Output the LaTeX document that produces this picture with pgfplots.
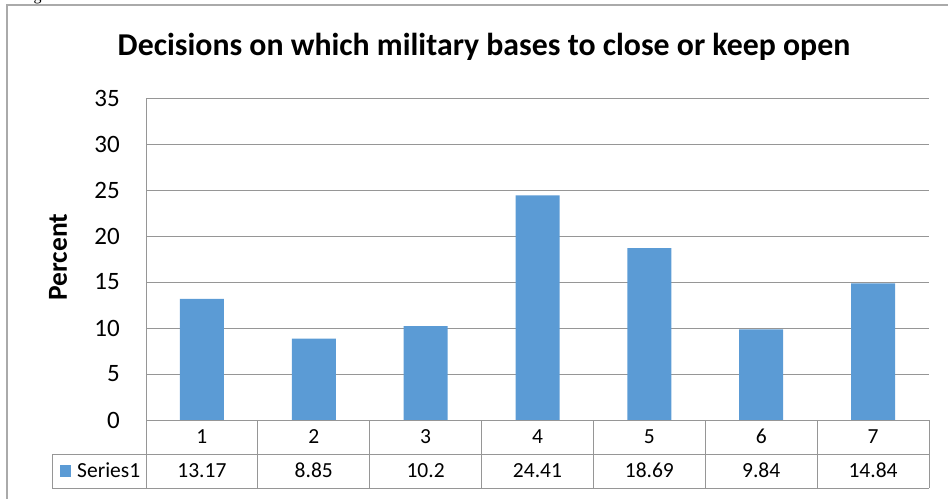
\documentclass[border=0pt]{standalone}
\usepackage{pgfplots}
\pgfplotsset{compat=1.18}
\usepackage{fontspec}
\setmainfont{Carlito}
\newfontfamily\seriffont{Liberation Serif}
\definecolor{barblue}{RGB}{91,155,213}
\definecolor{gridgray}{RGB}{150,150,150}
\definecolor{framegray}{RGB}{170,170,170}

\begin{document}
\begin{tikzpicture}[x=1bp,y=-1bp]
\path[use as bounding box] (0,0) rectangle (948,499);
\clip (0,0) rectangle (948,499);

% cut-off caption above the chart
\node[anchor=base west, inner sep=0pt, font=\seriffont\fontsize{16bp}{16bp}\selectfont] at (20,1) {Fig};

% chart frame
\draw[framegray, line width=1.2bp] (7,499) -- (7,5) -- (948,5);

\begin{axis}[
  at={(146bp,-420bp)}, anchor=south west,
  scale only axis, width=783bp, height=322bp,
  xmin=0.5, xmax=7.5, ymin=0, ymax=35,
  ytick={0,5,...,35},
  ymajorgrids,
  grid style={gridgray, line width=0.8bp},
  axis x line=none,
  axis y line=left,
  y axis line style={-, gridgray, line width=0.8bp},
  major tick length=0pt,
  yticklabel style={anchor=east, inner sep=0pt, xshift=-26bp,
    font=\fontsize{25bp}{25bp}\selectfont},
  /pgf/number format/assume math mode=true,
  clip=false,
]
\addplot[ybar, bar width=44bp, fill=barblue, draw=none]
  coordinates {(1,13.17) (2,8.85) (3,10.2) (4,24.41) (5,18.69) (6,9.84) (7,14.84)};
\end{axis}

% title and axis label
\node[anchor=base, inner sep=0pt, font=\bfseries\fontsize{31.8bp}{32bp}\selectfont] at (484,56)
  {Decisions on which military bases to close or keep open};
\node[rotate=90, inner sep=0pt, font=\bfseries\fontsize{27.5bp}{28bp}\selectfont] at (58,257) {Percent};

% data table
\draw[gridgray, line width=0.8bp] (146,420) -- (929,420);
\draw[gridgray, line width=0.8bp] (52,454) -- (929,454);
\draw[gridgray, line width=0.8bp] (52,488) -- (929,488);
\draw[gridgray, line width=0.8bp] (52,454) -- (52,488);
\draw[gridgray, line width=0.8bp] (146,420) -- (146,488);
\foreach \k in {1,...,7} {
  \draw[gridgray, line width=0.8bp] ({146+783*\k/7},420) -- ({146+783*\k/7},488);
}
\foreach \v [count=\k] in {13.17,8.85,10.2,24.41,18.69,9.84,14.84} {
  \node[anchor=base, inner sep=0pt, font=\fontsize{21.5bp}{22bp}\selectfont]
    at ({146+783*(\k-0.5)/7},443) {\k};
  \node[anchor=base, inner sep=0pt, font=\fontsize{21.5bp}{22bp}\selectfont]
    at ({146+783*(\k-0.5)/7},477) {\v};
}
\fill[barblue] (60,465) rectangle (71,477);
\node[anchor=base west, inner sep=0pt, font=\fontsize{21.5bp}{22bp}\selectfont] at (77,477) {Series1};
\end{tikzpicture}
\end{document}
